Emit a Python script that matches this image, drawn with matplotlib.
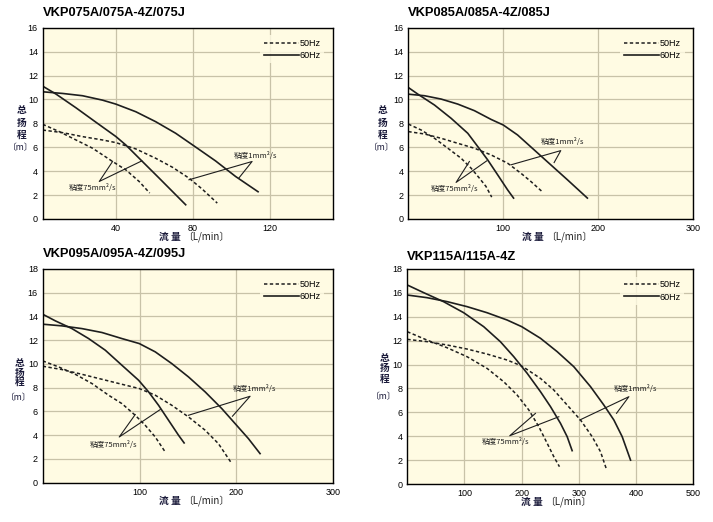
import matplotlib.pyplot as plt

plt.rcParams['font.family'] = ['Liberation Sans', 'Noto Sans CJK SC', 'DejaVu Sans']

# ---- data (flow L/min, head m) ----
titles = ['VKP075A/075A-4Z/075J', 'VKP085A/085A-4Z/085J',
          'VKP095A/095A-4Z/095J', 'VKP115A/115A-4Z']

# panel 1
p1_q60_1 = [2.0, 12.4, 22.7, 33.1, 40, 50.4, 60.7, 71.1, 81.1, 91.8, 102.2, 113.9]
p1_h60_1 = [10.64, 10.5, 10.31, 9.94, 9.61, 8.97, 8.14, 7.17, 6.06, 4.86, 3.56, 2.28]
p1_q60_75 = [2.0, 8.9, 19.3, 29.6, 40, 45.2, 53.8, 62.5, 71.1, 76.3]
p1_h60_75 = [11.11, 10.45, 9.3, 8.1, 6.9, 6.19, 4.81, 3.42, 2.03, 1.19]
p1_q50_1 = [2.0, 12.4, 22.7, 33.1, 40, 50.4, 60.7, 69.4, 78, 84.9, 92.7]
p1_h50_1 = [7.44, 7.22, 6.89, 6.61, 6.39, 5.86, 5.08, 4.33, 3.42, 2.5, 1.33]
p1_q50_75 = [2.0, 10.6, 19.3, 27.9, 38.3, 45.2, 52.1, 57.6]
p1_h50_75 = [7.92, 7.31, 6.61, 5.92, 4.81, 4.11, 3.14, 2.17]

# panel 2
p2_q60_1 = [0, 17.1, 34.6, 52.1, 69.6, 87.1, 100, 115, 132.5, 150, 167.5, 188.5]
p2_h60_1 = [10.44, 10.31, 10.03, 9.61, 9.06, 8.33, 7.86, 7.03, 5.78, 4.53, 3.28, 1.75]
p2_q60_75 = [0, 10.1, 27.6, 45.1, 62.6, 73.1, 83.6, 94.1, 104.5, 110.8]
p2_h60_75 = [11.0, 10.44, 9.53, 8.42, 7.17, 6.06, 4.94, 3.69, 2.44, 1.75]
p2_q50_1 = [0, 17.1, 34.6, 52.1, 69.6, 87.1, 104.5, 118.5, 129, 140.6]
p2_h50_1 = [7.31, 7.11, 6.75, 6.33, 5.92, 5.36, 4.67, 3.83, 3.14, 2.31]
p2_q50_75 = [0, 13.6, 27.6, 41.6, 55.6, 66.1, 74.8, 81.8, 87.8]
p2_h50_75 = [7.94, 7.44, 6.75, 5.92, 5.08, 4.25, 3.42, 2.72, 1.83]

# panel 3
p3_q60_1 = [0, 19.9, 40.5, 61.2, 81.8, 99.7, 116.2, 133.3, 150.5, 167.7, 184.9, 198.6, 212.4, 224.4]
p3_h60_1 = [13.35, 13.21, 12.98, 12.65, 12.14, 11.72, 11.02, 10.03, 8.91, 7.65, 6.24, 4.98, 3.71, 2.45]
p3_q60_75 = [0, 13.1, 30.2, 47.4, 64.6, 81.8, 99, 109.3, 119.6, 129.9, 140.2, 146]
p3_h60_75 = [14.19, 13.63, 12.98, 12.14, 11.16, 9.89, 8.63, 7.65, 6.52, 5.26, 4.0, 3.35]
p3_q50_1 = [0, 19.9, 40.5, 61.2, 81.8, 99.7, 116.2, 133.3, 150.5, 167.7, 181.4, 195.2]
p3_h50_1 = [9.81, 9.53, 9.13, 8.71, 8.29, 7.93, 7.37, 6.52, 5.54, 4.42, 3.29, 1.61]
p3_q50_75 = [0, 16.5, 33.7, 50.9, 68, 81.8, 95.5, 105.8, 116.2, 127.1]
p3_h50_75 = [10.26, 9.75, 9.13, 8.35, 7.37, 6.66, 5.68, 4.84, 3.85, 2.51]

# panel 4
p4_q60_1 = [0, 34.4, 69.4, 104.4, 139.4, 174.4, 200.1, 232.8, 262, 291.1, 320.3, 343.6, 361.1, 375.7, 390.3]
p4_h60_1 = [15.82, 15.6, 15.27, 14.85, 14.34, 13.73, 13.17, 12.2, 11.08, 9.82, 8.15, 6.61, 5.36, 3.96, 2.0]
p4_q60_75 = [0, 28.6, 63.6, 98.6, 133.6, 162.8, 186.1, 209.5, 232.8, 250.3, 267.8, 279.5, 288.2]
p4_h60_75 = [16.66, 16.02, 15.26, 14.34, 13.17, 11.91, 10.66, 9.27, 7.73, 6.48, 5.08, 3.96, 2.79]
p4_q50_1 = [0, 34.4, 69.4, 104.4, 139.4, 174.4, 200.1, 232.8, 256.1, 279.5, 302.8, 323.2, 337.8, 347.7]
p4_h50_1 = [12.11, 11.92, 11.64, 11.3, 10.88, 10.38, 9.88, 8.84, 7.87, 6.61, 5.36, 3.96, 2.7, 1.3]
p4_q50_75 = [0, 34.4, 69.4, 104.4, 139.4, 168.6, 192, 212.4, 229.9, 244.5, 256.1, 266]
p4_h50_75 = [12.75, 12.05, 11.41, 10.66, 9.68, 8.56, 7.45, 6.2, 4.8, 3.41, 2.29, 1.45]

# viscosity callouts: text pos, hub, two targets
visc1_text = [(101.3, 5.28), (139.5, 6.47), (195.9, 7.87), (361.1, 7.92)]
visc1_hub = [(110.8, 4.81), (160.5, 5.72), (214.1, 7.28), (387.4, 7.31)]
visc1_tgt = [[(78, 3.28), (103.9, 3.42)], [(108, 4.53), (153.5, 4.72)],
             [(150.5, 5.68), (195.9, 5.6)], [(301.6, 5.36), (365.8, 5.92)]]
visc75_text = [(15.8, 2.58), (24.1, 2.5), (48.5, 3.15), (130.7, 3.49)]
visc75_hub = [(31.4, 3.14), (50.3, 3.06), (79, 3.85), (179.1, 4.04)]
visc75_tgt = [[(38.3, 4.81), (53.5, 4.86)], [(64.3, 4.81), (82.5, 4.86)],
              [(95.5, 5.74), (121.3, 6.16)], [(224, 5.91), (264.9, 5.63)]]

xlims = [(2.0, 153), (0, 300), (0, 300), (0, 500)]
xticks = [[40, 80, 120], [100, 200, 300], [100, 200, 300], [100, 200, 300, 400, 500]]
ymaxs = [16, 16, 18, 18]

curves = [
    [(p1_q60_1, p1_h60_1), (p1_q60_75, p1_h60_75), (p1_q50_1, p1_h50_1), (p1_q50_75, p1_h50_75)],
    [(p2_q60_1, p2_h60_1), (p2_q60_75, p2_h60_75), (p2_q50_1, p2_h50_1), (p2_q50_75, p2_h50_75)],
    [(p3_q60_1, p3_h60_1), (p3_q60_75, p3_h60_75), (p3_q50_1, p3_h50_1), (p3_q50_75, p3_h50_75)],
    [(p4_q60_1, p4_h60_1), (p4_q60_75, p4_h60_75), (p4_q50_1, p4_h50_1), (p4_q50_75, p4_h50_75)],
]

W, H = 713, 522
# axes boxes in pixels: left, top, right, bottom
boxes = [(42.7, 27.7, 333.3, 219), (408.3, 27.7, 693.3, 219),
         (42.7, 269, 333.3, 482.7), (407.3, 269, 693.3, 484)]
title_y = [13, 13, 254, 257]
ylab_x = [22, 383, 20, 385]
ylab_y = [[0.57, 0.503, 0.44, 0.372], [0.57, 0.503, 0.44, 0.372],
          [0.56, 0.515, 0.47, 0.40], [0.585, 0.538, 0.487, 0.406]]
xlab_dy = [18, 18, 18, 18]   # px below the axes

bg = '#fffbe3'
gridc = '#c8c2a8'
ink = '#1e1e1e'
cjk = ['Noto Sans CJK SC', 'DejaVu Sans']
dash = (0, (2.2, 1.6))

fig = plt.figure(figsize=(W / 100, H / 100), dpi=100)

for i in range(4):
    l, t, r, b = boxes[i]
    ax = fig.add_axes([l / W, 1 - b / H, (r - l) / W, (b - t) / H])
    ax.set_facecolor(bg)
    ax.set_xlim(*xlims[i])
    ax.set_ylim(0, ymaxs[i])
    ax.set_xticks(xticks[i])
    ax.set_yticks(range(0, ymaxs[i] + 1, 2))
    ax.tick_params(length=0, labelsize=6.5, pad=3.5)
    ax.grid(True, color=gridc, lw=0.9)
    ax.set_axisbelow(True)
    for s in ax.spines.values():
        s.set_linewidth(1.0)

    c = curves[i]
    ax.plot(*c[2], color=ink, lw=1.1, ls=dash, label='50Hz')
    ax.plot(*c[0], color=ink, lw=1.2, label='60Hz')
    ax.plot(*c[1], color=ink, lw=1.2)
    ax.plot(*c[3], color=ink, lw=1.1, ls=dash)

    for txt, hub, tg, lab in [(visc1_text[i], visc1_hub[i], visc1_tgt[i], '粘度1mm²/s'),
                              (visc75_text[i], visc75_hub[i], visc75_tgt[i], '粘度75mm²/s')]:
        ax.plot([tg[0][0], hub[0], tg[1][0]], [tg[0][1], hub[1], tg[1][1]],
                color=ink, lw=0.8)
        ax.text(txt[0], txt[1], lab, fontsize=5.5, va='center', ha='left',
                family=['Noto Sans CJK JP', 'DejaVu Sans'], color=ink)

    leg = ax.legend(loc='upper right', bbox_to_anchor=(0.985, 0.985), fontsize=6.5,
                    handlelength=3.9, handletextpad=0.1, labelspacing=0.35,
                    borderpad=0.4, frameon=True, fancybox=False)
    leg.get_frame().set_facecolor(bg)
    leg.get_frame().set_edgecolor('none')

    # x label: bold "流 量" plus the unit, centred under the axes
    yl = -xlab_dy[i] / (b - t)
    ax.text(0.475, yl, '流 量', transform=ax.transAxes, fontsize=7, family=cjk,
            fontweight='bold', ha='right', va='center', color='#1a1a3a')
    ax.text(0.483, yl, '〔L/min〕', transform=ax.transAxes, fontsize=7, family=cjk,
            ha='left', va='center', color=ink)

    fig.text(l / W, 1 - title_y[i] / H, titles[i], fontsize=9.3, fontweight='bold',
             va='center', ha='left')
    for k, ch in enumerate(['总', '扬', '程', '〔m〕']):
        fig.text(ylab_x[i] / W - (0.002 if k == 3 else 0), 1 - (b - ylab_y[i][k] * (b - t)) / H, ch,
                 fontsize=7 if k < 3 else 6.3, family=cjk, ha='center', va='center',
                 fontweight='bold' if k < 3 else 'normal', color='#1a1a3a')

fig.savefig('out.png', dpi=100)
